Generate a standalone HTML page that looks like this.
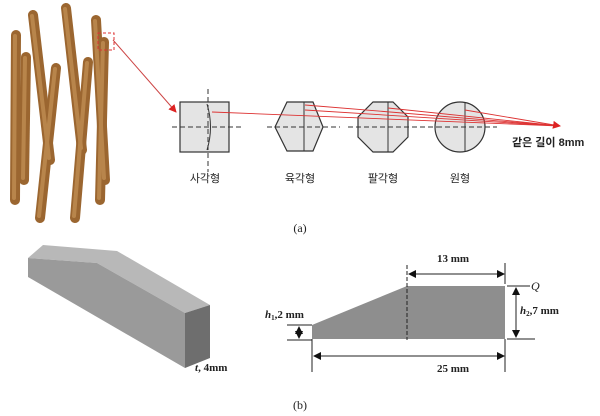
<!DOCTYPE html>
<html><head><meta charset="utf-8"><style>
html,body{margin:0;padding:0;background:#fff;width:600px;height:416px;overflow:hidden}
svg{display:block}
.k{font-family:"Liberation Sans","Noto Sans CJK KR",sans-serif;font-size:11px;fill:#222}
.s{font-family:"Liberation Serif",serif;font-size:11px;font-weight:bold;fill:#222}
</style></head><body>
<svg width="600" height="416" viewBox="0 0 600 416">
<defs>
<marker id="ar" markerWidth="8" markerHeight="8" refX="7" refY="4" orient="auto" markerUnits="userSpaceOnUse"><path d="M0,0 L8,4 L0,8z" fill="#d22"/></marker>
<marker id="bk" markerWidth="8" markerHeight="8" refX="7" refY="4" orient="auto-start-reverse" markerUnits="userSpaceOnUse"><path d="M0,0 L8,4 L0,8z" fill="#111"/></marker>
</defs>
<g stroke="#9b6630" stroke-width="10" stroke-linecap="round">
<line x1="16" y1="35" x2="15" y2="200"/>
<line x1="33" y1="15" x2="50" y2="160"/>
<line x1="66" y1="8" x2="82" y2="150"/>
<line x1="96" y1="20" x2="105" y2="180"/>
<line x1="26" y1="57" x2="24" y2="180"/>
<line x1="56" y1="68" x2="40" y2="218"/>
<line x1="88" y1="62" x2="75" y2="218"/>
<line x1="104" y1="42" x2="100" y2="200"/>
</g>
<g stroke="#c08d52" stroke-width="4" stroke-linecap="round" opacity="0.8">
<line x1="15" y1="36" x2="14" y2="198"/>
<line x1="32" y1="16" x2="49" y2="158"/>
<line x1="65" y1="9" x2="81" y2="148"/>
<line x1="95" y1="21" x2="104" y2="178"/>
<line x1="25" y1="58" x2="23" y2="178"/>
<line x1="55" y1="69" x2="39" y2="216"/>
<line x1="87" y1="63" x2="74" y2="216"/>
<line x1="103" y1="43" x2="99" y2="198"/>
</g>
<rect x="98" y="33" width="16" height="17" fill="none" stroke="#d33" stroke-dasharray="3,2"/>
<line x1="113" y1="40" x2="176" y2="112" stroke="#c44" stroke-width="1" marker-end="url(#ar)"/>
<g fill="#e4e4e4" stroke="#333" stroke-width="1.2">
<rect x="180" y="102" width="49" height="50"/>
<polygon points="275,127 287,102 313,102 323,127 313,151 287,151"/>
<polygon points="373,102 393,102 408,117 408,137 393,152 373,152 358,137 358,117"/>
<circle cx="460" cy="127" r="25"/>
</g>
<g stroke="#333" fill="none" stroke-width="1">
<path d="M207,104 Q214,127 207,150"/>
<line x1="304" y1="102" x2="304" y2="151"/>
<line x1="388" y1="102" x2="388" y2="152"/>
<line x1="465" y1="102" x2="465" y2="152"/>
</g>
<g stroke="#333" stroke-width="1" stroke-dasharray="5,3">
<line x1="172" y1="127" x2="242" y2="127"/>
<line x1="208" y1="89" x2="208" y2="172"/>
<line x1="267" y1="127" x2="340" y2="127"/>
<line x1="348" y1="127" x2="437" y2="127"/>
<line x1="437" y1="127" x2="497" y2="127"/>
</g>
<g stroke="#d33" stroke-width="0.9">
<line x1="212" y1="112" x2="560" y2="126"/>
<line x1="305" y1="105" x2="560" y2="126"/>
<line x1="305" y1="110" x2="560" y2="126"/>
<line x1="388" y1="108" x2="560" y2="126"/>
<line x1="465" y1="110" x2="560" y2="126" marker-end="url(#ar)"/>
</g>
<text class="k" x="512" y="146" font-weight="bold">같은 길이 8mm</text>
<text class="k" x="205" y="182" text-anchor="middle">사각형</text>
<text class="k" x="300" y="182" text-anchor="middle">육각형</text>
<text class="k" x="383" y="182" text-anchor="middle">팔각형</text>
<text class="k" x="460" y="182" text-anchor="middle">원형</text>
<text x="300" y="232" text-anchor="middle" font-family="Liberation Serif,serif" font-size="12" fill="#222">(a)</text>
<text x="300" y="409" text-anchor="middle" font-family="Liberation Serif,serif" font-size="12" fill="#222">(b)</text>
<polygon points="28,258 43,245 117,251 210,305 185,313 97,263" fill="#b8b8b8"/>
<polygon points="28,258 97,263 185,313 185,368 28,277" fill="#9a9a9a"/>
<polygon points="185,313 210,305 210,358 185,368" fill="#6e6e6e"/>
<text x="195" y="371" font-family="Liberation Serif,serif" font-size="11" font-weight="bold" fill="#222"><tspan font-style="italic">t</tspan>, 4mm</text>
<polygon points="312,325 407,286 505,286 505,339 312,339" fill="#8e8e8e"/>
<line x1="407" y1="265" x2="407" y2="340" stroke="#222" stroke-dasharray="4,2"/>
<g stroke="#222" stroke-width="1" fill="none">
<line x1="505" y1="263" x2="505" y2="284"/>
<line x1="409" y1="274" x2="504" y2="274" marker-start="url(#bk)" marker-end="url(#bk)"/>
<line x1="507" y1="286" x2="530" y2="286"/>
<line x1="507" y1="339" x2="535" y2="339"/>
<line x1="516" y1="288" x2="516" y2="337" marker-start="url(#bk)" marker-end="url(#bk)"/>
<line x1="505" y1="339" x2="505" y2="372"/>
<line x1="312" y1="339" x2="312" y2="372"/>
<line x1="314" y1="356" x2="504" y2="356" marker-start="url(#bk)" marker-end="url(#bk)"/>
<line x1="287" y1="325" x2="312" y2="325"/>
<line x1="287" y1="340" x2="312" y2="340"/>
<line x1="299" y1="327" x2="299" y2="338" marker-start="url(#bk)" marker-end="url(#bk)"/>
</g>
<text class="s" x="453" y="262" text-anchor="middle">13 mm</text>
<text class="s" x="453" y="372" text-anchor="middle">25 mm</text>
<text x="531" y="290" font-family="Liberation Serif,serif" font-size="12" font-style="italic" fill="#222">Q</text>
<text class="s" x="520" y="314"><tspan font-style="italic">h</tspan><tspan font-size="7" dy="2">2</tspan><tspan dy="-2">,7 mm</tspan></text>
<text class="s" x="265" y="318"><tspan font-style="italic">h</tspan><tspan font-size="7" dy="2">1</tspan><tspan dy="-2">,2 mm</tspan></text>
</svg>
</body></html>
